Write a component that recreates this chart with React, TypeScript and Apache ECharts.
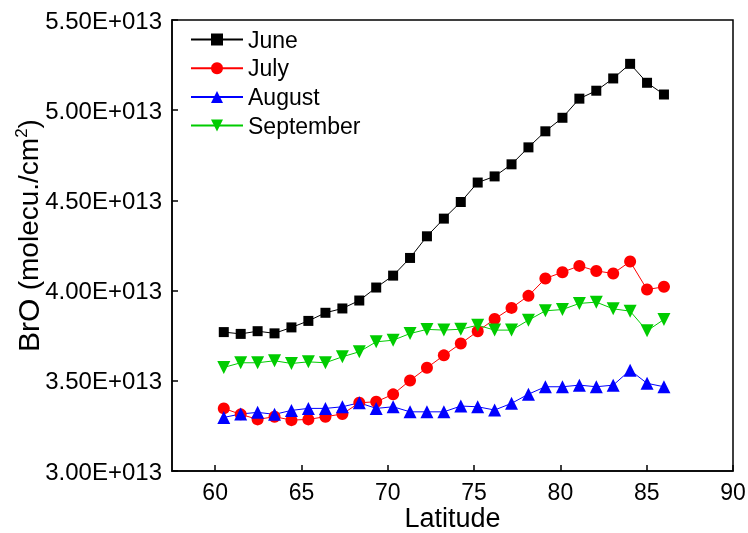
import React, { useEffect, useRef } from "react";
import * as echarts from "echarts";

const latitude = [60.5, 61.48, 62.46, 63.44, 64.42, 65.4, 66.39, 67.37, 68.35, 69.33, 70.31, 71.29, 72.27, 73.25, 74.23, 75.21, 76.19, 77.17, 78.15, 79.13, 80.12, 81.1, 82.08, 83.06, 84.04, 85.02, 86.0];

const june = [3.770, 3.760, 3.775, 3.763, 3.796, 3.832, 3.877, 3.901, 3.945, 4.017, 4.083, 4.181, 4.301, 4.399, 4.491, 4.599, 4.633, 4.700, 4.794, 4.883, 4.958, 5.064, 5.108, 5.176, 5.257, 5.152, 5.087];
const july = [3.347, 3.314, 3.286, 3.301, 3.282, 3.286, 3.301, 3.316, 3.378, 3.384, 3.425, 3.502, 3.572, 3.641, 3.707, 3.774, 3.843, 3.904, 3.971, 4.067, 4.102, 4.137, 4.109, 4.095, 4.161, 4.006, 4.021];
const august = [3.297, 3.316, 3.325, 3.314, 3.336, 3.347, 3.347, 3.356, 3.378, 3.347, 3.356, 3.328, 3.328, 3.328, 3.360, 3.356, 3.338, 3.375, 3.426, 3.467, 3.467, 3.476, 3.467, 3.476, 3.559, 3.486, 3.467];
const september = [3.574, 3.600, 3.600, 3.611, 3.596, 3.605, 3.600, 3.633, 3.661, 3.716, 3.725, 3.762, 3.785, 3.781, 3.786, 3.808, 3.781, 3.781, 3.836, 3.888, 3.895, 3.929, 3.936, 3.899, 3.886, 3.777, 3.840];

const xTicks = [60, 65, 70, 75, 80, 85, 90];
const SCALE = 1e13;

const FONT = "Arial, 'Liberation Sans', Helvetica, sans-serif";

export default function App() {
  const ref = useRef<HTMLDivElement>(null);
  useEffect(() => {
    if (!ref.current) return;
    const chart = echarts.init(ref.current, null, { renderer: "svg" });
    const mk = (name: string, vals: number[], color: string, symbol: string, size: number, rotate = 0) => ({
      name,
      type: "line",
      data: latitude.map((x, i) => [x, vals[i] * SCALE]),
      symbol,
      symbolSize: size,
      symbolRotate: rotate,
      lineStyle: { color, width: 1 },
      itemStyle: { color, borderWidth: 0 },
      z: 2,
    });
    chart.setOption({
      animation: false,
      grid: {
        left: 172,
        right: 15,
        top: 20,
        bottom: 62,
        show: true,
        borderColor: "#000",
        borderWidth: 1.5,
        containLabel: false,
        outerBoundsMode: "none",
      },
      legend: {
        orient: "vertical",
        left: 190,
        top: 28,
        padding: 0,
        itemWidth: 52,
        itemHeight: 15,
        itemGap: 5.7,
        textStyle: { fontFamily: FONT, fontSize: 23, color: "#000", lineHeight: 23 },
        data: ["June", "July", "August", "September"],
      },
      xAxis: {
        type: "value",
        min: 57.5,
        max: 90,
        name: "Latitude",
        nameLocation: "middle",
        nameGap: 33,
        nameMoveOverlap: false,
        nameTextStyle: { fontFamily: FONT, fontSize: 27, lineHeight: 27, color: "#000" },
        axisLine: { lineStyle: { color: "#000", width: 1.5 } },
        axisTick: { inside: true, length: 6, customValues: xTicks, lineStyle: { color: "#000", width: 1.5 } },
        axisLabel: { customValues: xTicks, fontFamily: FONT, fontSize: 23, color: "#000", margin: 9 },
        splitLine: { show: false },
      },
      yAxis: {
        type: "value",
        min: 3e13,
        max: 5.5e13,
        interval: 0.5e13,
        name: "{a|BrO }{b|(molecu./cm}{s|2}{b|)}",
        nameLocation: "middle",
        nameRotate: 90,
        nameGap: 129,
        nameMoveOverlap: false,
        nameTextStyle: {
          color: "#000",
          padding: [0, 0, 0, 20],
          rich: {
            a: { fontFamily: FONT, fontSize: 30, color: "#000" },
            b: { fontFamily: FONT, fontSize: 28, color: "#000" },
            s: { fontFamily: FONT, fontSize: 17, color: "#000", verticalAlign: "top", padding: [0, 0, 12, 0] },
          },
        },
        axisLine: { lineStyle: { color: "#000", width: 1.5 } },
        axisTick: { inside: true, length: 6, lineStyle: { color: "#000", width: 1.5 } },
        axisLabel: {
          fontFamily: FONT,
          fontSize: 24,
          color: "#000",
          margin: 10,
          formatter: (v: number) => (v / SCALE).toFixed(2) + "E+013",
        },
        splitLine: { show: false },
      },
      series: [
        mk("June", june, "#000000", "rect", 10),
        mk("July", july, "#ff0000", "circle", 12),
        mk("August", august, "#0000ff", "triangle", 13),
        mk("September", september, "#00cc00", "triangle", 13, 180),
      ],
    });
    return () => chart.dispose();
  }, []);
  return <div ref={ref} style={{ position: "fixed", left: 0, top: 0, width: 748, height: 533 }} />;
}
